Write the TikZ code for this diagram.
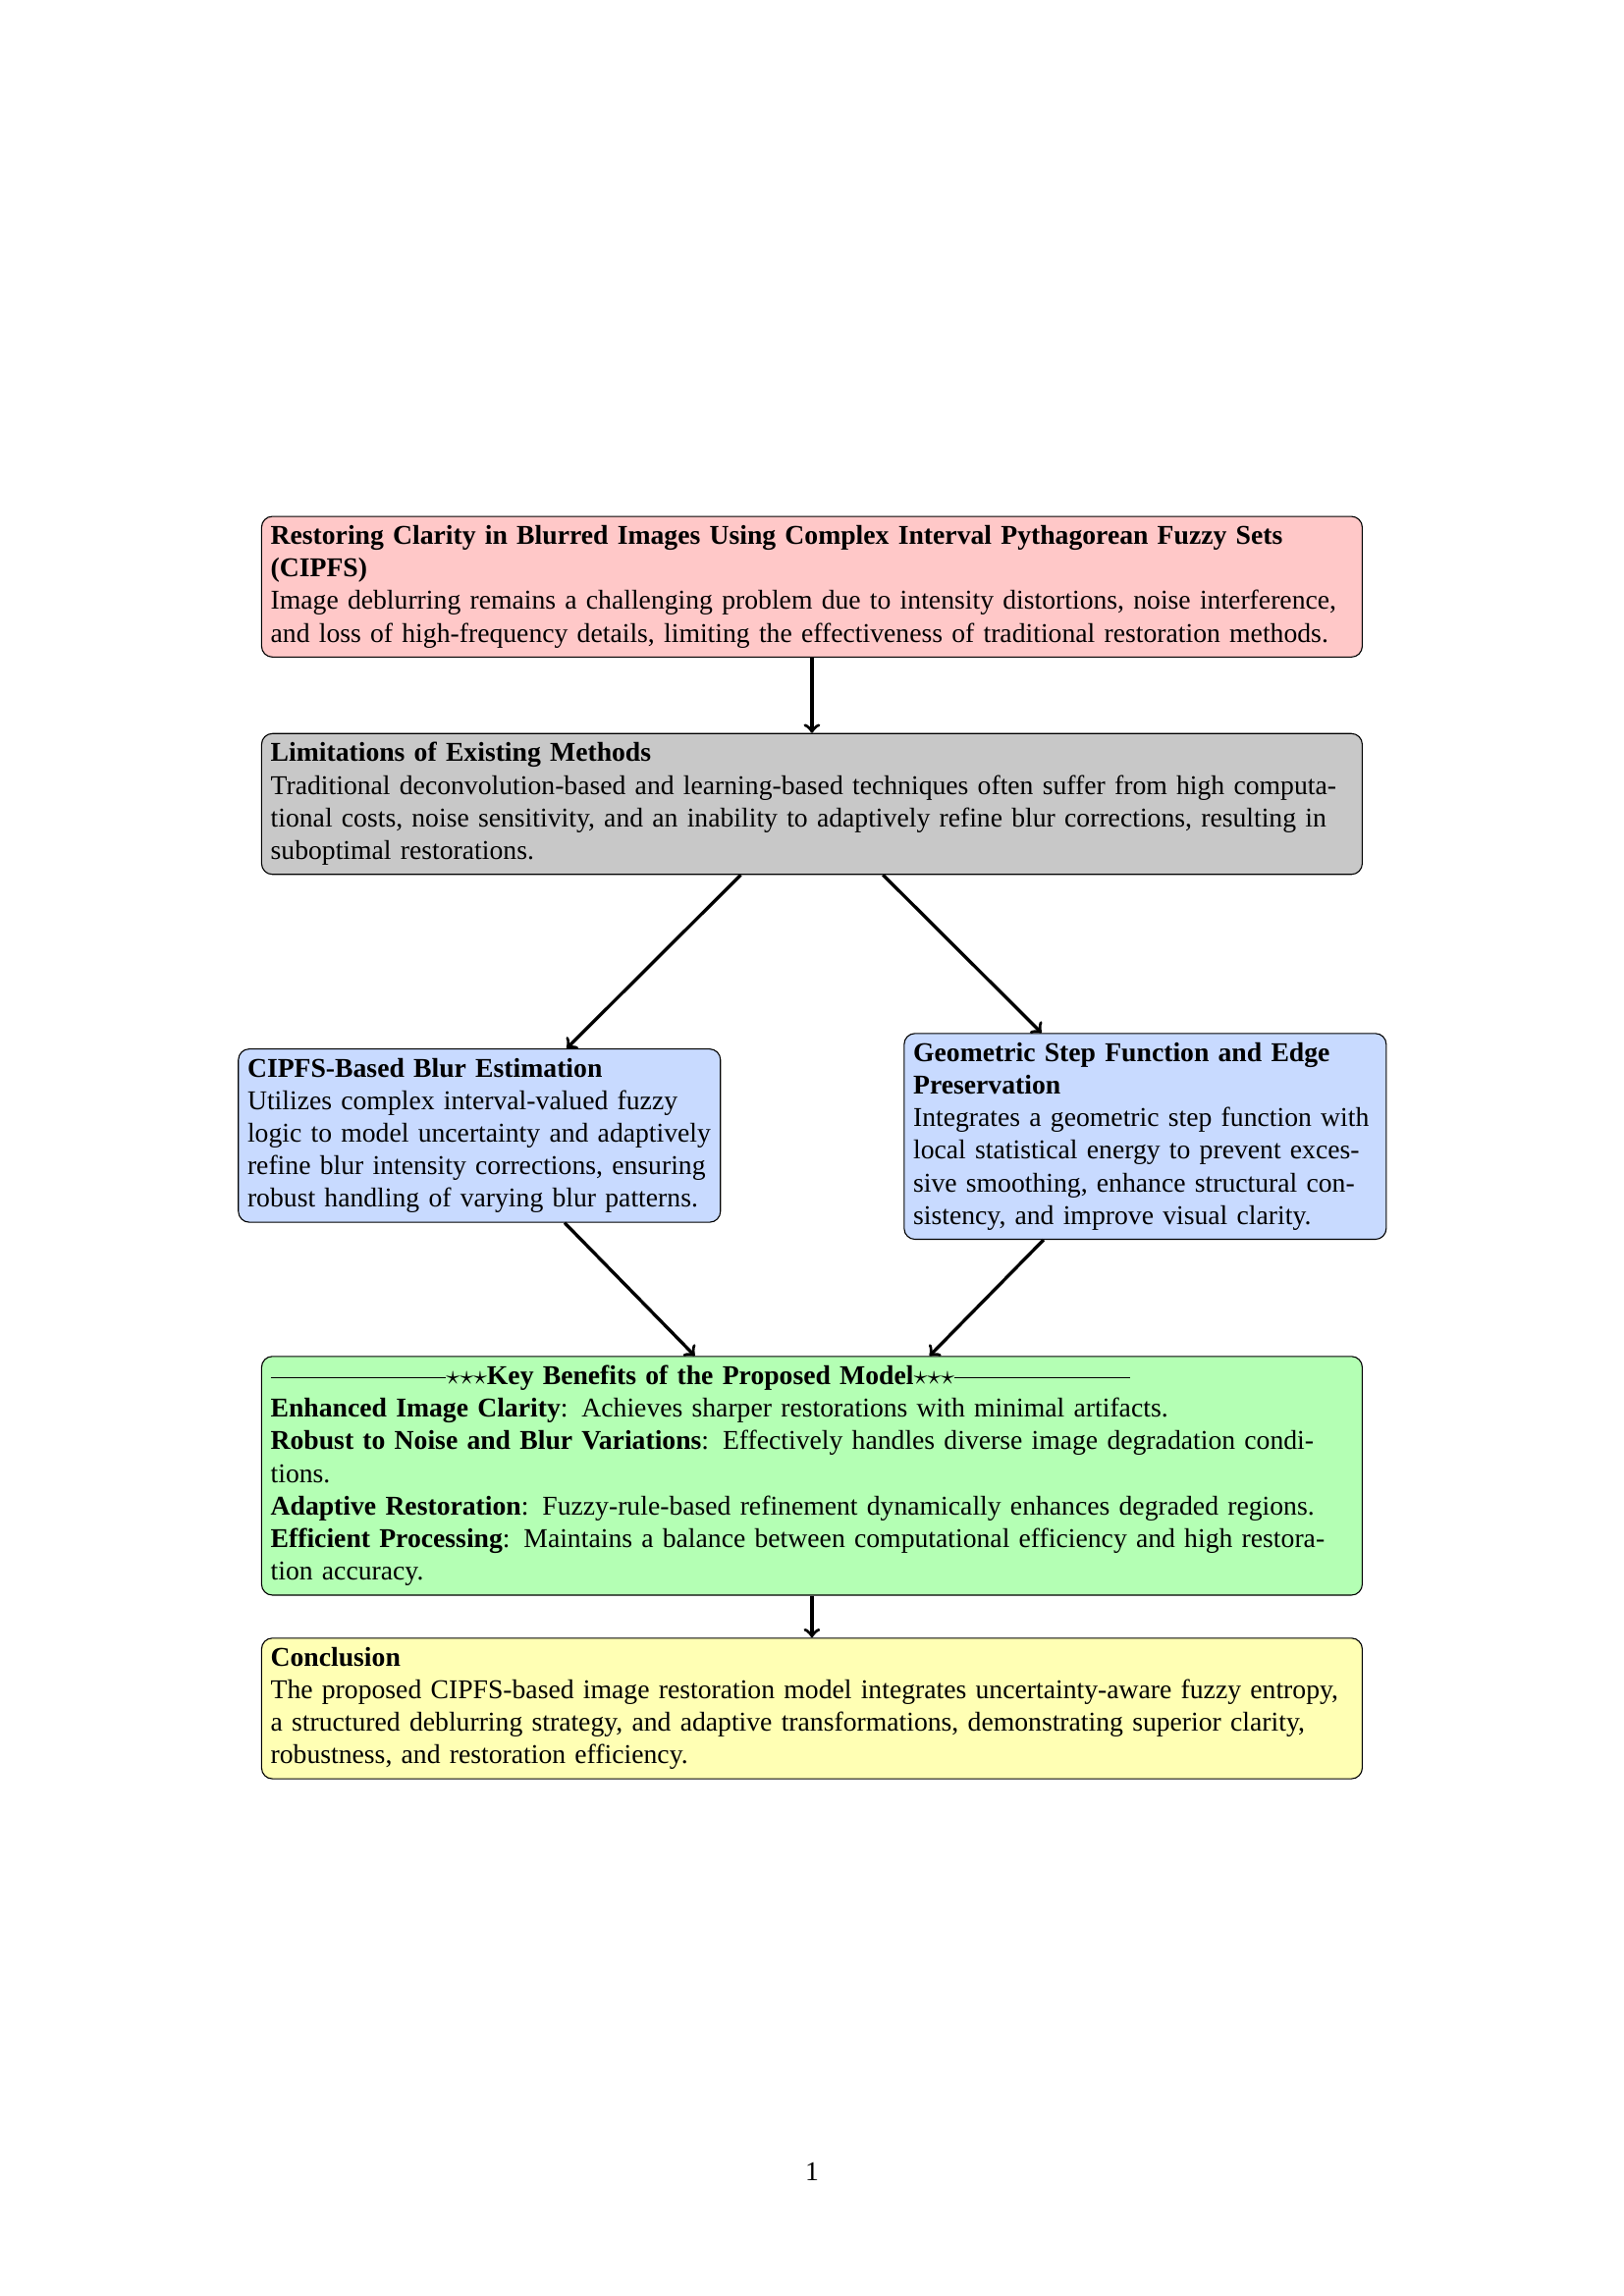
\documentclass[tikz,border=0pt]{standalone}
\usepackage{fontspec}
\setmainfont{Liberation Serif}
\usepackage{amsmath,amssymb}
\usepackage{tikz}
\usetikzlibrary{arrows,calc}

\definecolor{introfill}{RGB}{255,200,200}
\definecolor{limitfill}{RGB}{200,200,200}
\definecolor{methodfill}{RGB}{200,218,255}
\definecolor{benefitfill}{RGB}{180,255,180}
\definecolor{conclfill}{RGB}{255,255,180}

\begin{document}
\begin{tikzpicture}
	[block/.style={draw,rounded corners,align=left,font=\fontsize{10}{12}\selectfont},
	 wideblock/.style={block,text width=14cm},
	 narrowblock/.style={block,text width=6cm,fill=methodfill},
	 flow/.style={->,very thick}]
	% page frame
	\useasboundingbox (0,0) rectangle (21,29.7);
	\coordinate (C) at (10.5,19.3);

	% problem statement
	\node[wideblock,fill=introfill] (intro) at (10.5,22.11)
		{\textbf{Restoring Clarity in Blurred Images Using Complex Interval Pythagorean Fuzzy Sets (CIPFS)}\\
		Image deblurring remains a challenging problem due to intensity distortions, noise interference, and loss of high-frequency details, limiting the effectiveness of traditional restoration methods.};

	% limitations
	\node[wideblock,fill=limitfill] (limits) at (C)
		{\textbf{Limitations of Existing Methods}\\
		Traditional deconvolution-based and learning-based techniques often suffer from high computational costs, noise sensitivity, and an inability to adaptively refine blur corrections, resulting in suboptimal restorations.};

	%
	% the two branches
	%
	\node[narrowblock] (blur) at ($(C)+(-4.3,-4.29)$)
		{\textbf{CIPFS-Based Blur Estimation}\\
		Utilizes complex interval-valued fuzzy logic to model uncertainty and adaptively refine blur intensity corrections, ensuring robust handling of varying blur patterns.};
	\node[narrowblock] (geom) at ($(C)+(4.31,-4.3)$)
		{\textbf{Geometric Step Function and Edge Preservation}\\
		Integrates a geometric step function with local statistical energy to prevent excessive smoothing, enhance structural consistency, and improve visual clarity.};

	% benefits
	\node[wideblock,fill=benefitfill] (benefits) at ($(C)+(0,-8.69)$)
		{\rule[0.5ex]{2.27cm}{0.4pt}${\star}{\star}{\star}$\textbf{Key Benefits of the Proposed Model}${\star}{\star}{\star}$\rule[0.5ex]{2.27cm}{0.4pt}\\
		\textbf{Enhanced Image Clarity}: Achieves sharper restorations with minimal artifacts.\\
		\textbf{Robust to Noise and Blur Variations}: Effectively handles diverse image degradation conditions.\\
		\textbf{Adaptive Restoration}: Fuzzy-rule-based refinement dynamically enhances degraded regions.\\
		\textbf{Efficient Processing}: Maintains a balance between computational efficiency and high restoration accuracy.};

	% conclusion
	\node[wideblock,fill=conclfill] (concl) at ($(C)+(0,-11.7)$)
		{\textbf{Conclusion}\\
		The proposed CIPFS-based image restoration model integrates uncertainty-aware fuzzy entropy, a structured deblurring strategy, and adaptive transformations, demonstrating superior clarity, robustness, and restoration efficiency.};

	\node (pagenum) at (10.5,1.61) {1};

	% connections
	\draw[flow] (intro) -- (limits);
	\draw[flow] (limits) -- (blur);
	\draw[flow] (limits) -- (geom);
	\draw[flow] (blur) -- (benefits);
	\draw[flow] (geom) -- (benefits);
	\draw[flow] (benefits) -- (concl);
\end{tikzpicture}
\end{document}
